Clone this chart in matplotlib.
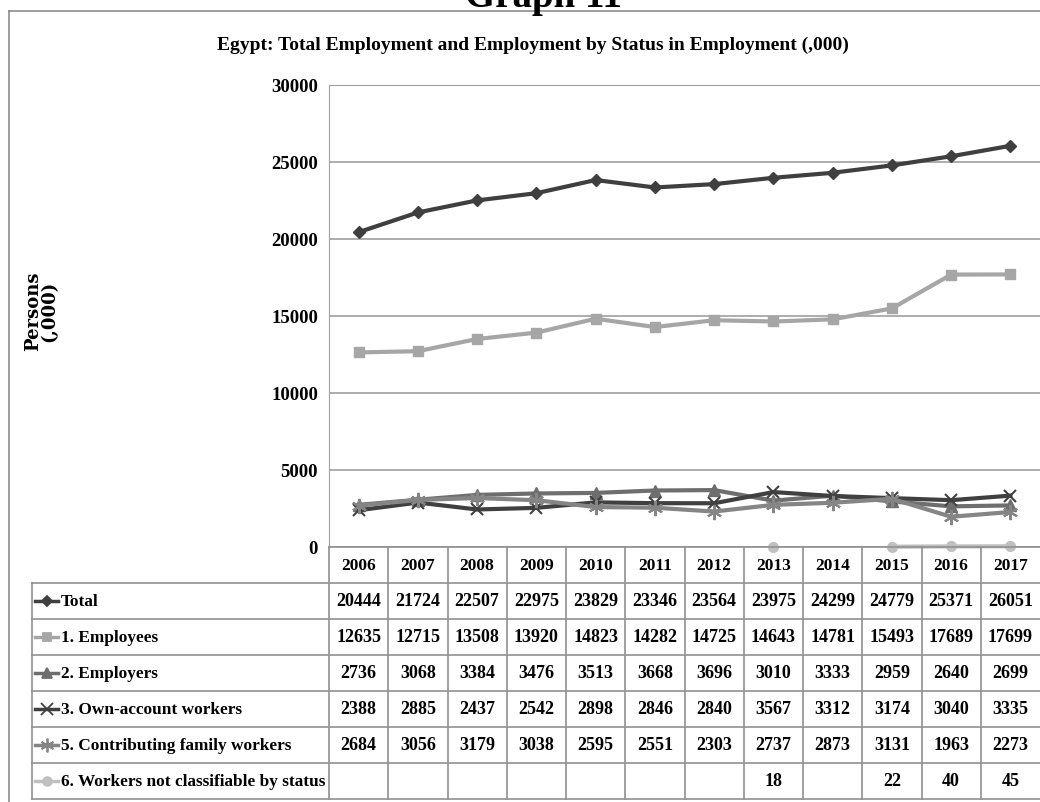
import numpy as np
import matplotlib
matplotlib.use("Agg")
import matplotlib.pyplot as plt
from matplotlib.lines import Line2D

years = ["2006", "2007", "2008", "2009", "2010", "2011", "2012", "2013", "2014", "2015", "2016", "2017"]
total = [20444, 21724, 22507, 22975, 23829, 23346, 23564, 23975, 24299, 24779, 25371, 26051]
employees = [12635, 12715, 13508, 13920, 14823, 14282, 14725, 14643, 14781, 15493, 17689, 17699]
employers = [2736, 3068, 3384, 3476, 3513, 3668, 3696, 3010, 3333, 2959, 2640, 2699]
own_account = [2388, 2885, 2437, 2542, 2898, 2846, 2840, 3567, 3312, 3174, 3040, 3335]
contributing = [2684, 3056, 3179, 3038, 2595, 2551, 2303, 2737, 2873, 3131, 1963, 2273]
not_classifiable = [None, None, None, None, None, None, None, 18, None, 22, 40, 45]

series_names = ["Total", "1. Employees", "2. Employers", "3. Own-account workers",
                "5. Contributing family workers", "6. Workers not classifiable by status"]
series_values = [total, employees, employers, own_account, contributing, not_classifiable]
colors = ["#3f3f3f", "#a6a6a6", "#6e6e6e", "#404040", "#858585", "#c0c0c0"]
markers = ["D", "s", "^", "x", (6, 2, 0), "o"]
msizes = [6, 7, 8, 9, 11, 7]

FONT = "Liberation Serif"
W, H = 1040, 803
fig = plt.figure(figsize=(W / 100, H / 100), dpi=100)

def px(x0, y0, x1, y1):
    return [x0 / W, 1 - y1 / H, (x1 - x0) / W, (y1 - y0) / H]

# outer frame
fig.add_artist(Line2D([9 / W, 9 / W], [0, 1 - 12 / H], transform=fig.transFigure, color="#8c8c8c", lw=1.2))
fig.add_artist(Line2D([9 / W, 1], [1 - 12 / H, 1 - 12 / H], transform=fig.transFigure, color="#8c8c8c", lw=1.2))

fig.text(543 / W, 1 - 7 / H, "Graph 11", ha="center", va="baseline", fontsize=28,
         fontweight="bold", family=FONT)
fig.text(533 / W, 1 - 45 / H, "Egypt: Total Employment and Employment by Status in Employment (,000)",
         ha="center", va="center", fontsize=14, fontweight="bold", family=FONT)
fig.text(41 / W, 1 - 311 / H, "Persons\n(,000)", ha="center", va="center", rotation=90,
         fontsize=13, fontweight="bold", family="DejaVu Serif", linespacing=0.85)

# main plot
ax = fig.add_axes(px(329, 86, 1040, 548))
x = np.arange(len(years))
for name, vals, c, m, ms in zip(series_names, series_values, colors, markers, msizes):
    y = np.array([np.nan if v is None else v for v in vals], dtype=float)
    ax.plot(x, y, color=c, lw=3, marker=m, markersize=ms,
            markeredgewidth=1.5 if (m == "x" or isinstance(m, tuple)) else 1,
            markeredgecolor=c, markerfacecolor=c, clip_on=False, zorder=3)
ax.set_xlim(-0.5, len(years) - 0.5)
ax.set_ylim(0, 30000)
ax.set_yticks(np.arange(0, 30001, 5000))
ax.set_yticklabels([str(v) for v in range(0, 30001, 5000)], fontsize=13.5, fontweight="bold", family=FONT)
ax.tick_params(axis="y", length=0, pad=8)
ax.set_xticks([])
ax.grid(axis="y", color="#a0a0a0", lw=1.2)
for s in ["right", "bottom"]:
    ax.spines[s].set_visible(False)
ax.spines["top"].set_color("#a0a0a0")
ax.spines["left"].set_color("#a0a0a0")
ax.set_axisbelow(True)

# table below
tax = fig.add_axes(px(32, 548, 1040, 800))
step = 59.25
xmin = -0.5 - (329 - 32) / step
tax.set_xlim(xmin, len(years) - 0.5)
nrows = len(series_names) + 1
tax.set_ylim(nrows, 0)
tax.axis("off")
lc = "#909090"
tax.plot([-0.5, len(years) - 0.5], [0, 0], color=lc, lw=1.2, clip_on=False)
for r in range(1, nrows + 1):
    tax.plot([xmin, len(years) - 0.5], [r, r], color=lc, lw=1.2, clip_on=False)
tax.plot([xmin, xmin], [1, nrows], color=lc, lw=1.2, clip_on=False)
for i in range(len(years)):
    tax.plot([i - 0.5, i - 0.5], [0, nrows], color=lc, lw=1.2, clip_on=False)
for i, yr in enumerate(years):
    tax.text(i, 0.5, yr, ha="center", va="center", fontsize=12.5, fontweight="bold", family=FONT)
for r, (name, vals, c, m, ms) in enumerate(zip(series_names, series_values, colors, markers, msizes), start=1):
    lx0 = xmin + 3 / step
    lx1 = xmin + 26 / step
    tax.plot([lx0, lx1], [r + 0.5, r + 0.5], color=c, lw=2.5, clip_on=False)
    tax.plot([(lx0 + lx1) / 2], [r + 0.5], color=c, marker=m, markersize=ms * 0.9,
             markeredgecolor=c, markerfacecolor=c, markeredgewidth=1.3, clip_on=False)
    tax.text(xmin + 29 / step, r + 0.5, name, ha="left", va="center", fontsize=12.4,
             fontweight="bold", family=FONT)
    for i, v in enumerate(vals):
        if v is not None:
            tax.text(i, r + 0.5, str(v), ha="center", va="center", fontsize=13,
                     fontweight="bold", family=FONT)

fig.savefig("out.png", dpi=100)
